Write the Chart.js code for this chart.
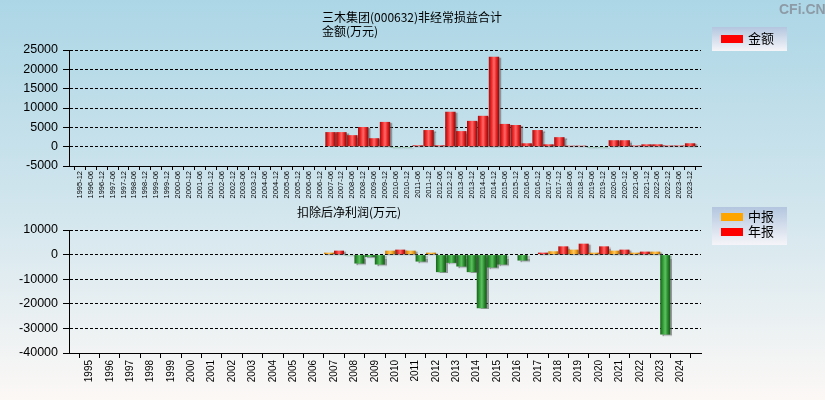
<!DOCTYPE html>
<html>
<head>
<meta charset="utf-8">
<script src="https://cdn.jsdelivr.net/npm/chart.js@4.4.1/dist/chart.umd.min.js"></script>
<style>
html, body { margin: 0; padding: 0; }
body {
    width: 825px; height: 400px; position: relative; overflow: hidden;
    background: linear-gradient(to bottom, #acd6e6 0%, #d0e5ed 50%, #fcf8f6 100%);
    font-family: "Noto Sans CJK SC", "Liberation Sans", sans-serif;
}
canvas { position: absolute; left: 0; }
#topChart { top: 0; }
#bottomChart { top: 200px; }
.title { position: absolute; font-size: 12px; line-height: 14px; color: #000; white-space: nowrap; }
.legend {
    position: absolute; left: 712px; width: 75px;
    background: linear-gradient(to bottom, #b3c6df, #f5f5f9);
    font-size: 13px; color: #000;
}
.legend div { position: absolute; left: 36px; line-height: 14px; }
.legend span { position: absolute; left: 9px; width: 22px; height: 8px; }
#wm { position: absolute; left: 779px; top: 1px; font: bold 14px "Liberation Sans", Arial, sans-serif; color: #8d9ba6; }
</style>
</head>
<body>
<canvas id="topChart" width="825" height="200"></canvas>
<canvas id="bottomChart" width="825" height="200"></canvas>

<div id="wm">CFi.CN</div>
<div class="title" style="left:322px; top:10px;">三木集团(000632)非经常损益合计<br>金额(万元)</div>
<div class="title" style="left:297px; top:205px;">扣除后净利润(万元)</div>

<div class="legend" style="top:27px; height:24px;">
    <span style="top:8px; background:#ff0000;"></span><div style="top:4px;">金额</div>
</div>
<div class="legend" style="top:207px; height:38px;">
    <span style="top:6px; background:#ffa500;"></span><div style="top:2px;">中报</div>
    <span style="top:21px; background:#ff0000;"></span><div style="top:17px;">年报</div>
</div>

<script>
// top chart: half-year periods
const periodLabels = [
    '1995-12',
    '1996-06', '1996-12', '1997-06', '1997-12', '1998-06', '1998-12', '1999-06', '1999-12',
    '2000-06', '2000-12', '2001-06', '2001-12', '2002-06', '2002-12', '2003-06', '2003-12',
    '2004-06', '2004-12', '2005-06', '2005-12', '2006-06', '2006-12', '2007-06', '2007-12',
    '2008-06', '2008-12', '2009-06', '2009-12', '2010-06', '2010-12', '2011-06', '2011-12',
    '2012-06', '2012-12', '2013-06', '2013-12', '2014-06', '2014-12', '2015-06', '2015-12',
    '2016-06', '2016-12', '2017-06', '2017-12', '2018-06', '2018-12', '2019-06', '2019-12',
    '2020-06', '2020-12', '2021-06', '2021-12', '2022-06', '2022-12', '2023-06', '2023-12'
];
const amountValues = [
    null,
    null, null, null, null, null, null, null, null,
    null, null, null, null, null, null, null, null,
    null, null, null, null, null, null, 3770, 3770,
    2980, 5090, 2190, 6400, -200, -200, 350, 4300,
    350, 9030, 4030, 6670, 7980, 23250, 5880, 5610,
    880, 4300, 610, 2460, 250, 250, -200, -200,
    1670, 1670, 300, 610, 610, 300, 300, 880
];
const topAxis = { min: -5000, max: 25000, step: 5000 };

// bottom chart: years
const yearLabels = [
    '1995', '1996', '1997', '1998', '1999', '2000', '2001', '2002', '2003', '2004',
    '2005', '2006', '2007', '2008', '2009', '2010', '2011', '2012', '2013', '2014',
    '2015', '2016', '2017', '2018', '2019', '2020', '2021', '2022', '2023', '2024'
];
const midValues = [
    null, null, null, null, null, null, null, null, null, null,
    null, null, 800, -300, -940, 1600, 1600, 800, -3360, -7130,
    -5250, -200, -200, 1350, 2020, 800, 1600, 800, 1210, null
];
const annualValues = [
    null, null, null, null, null, null, null, null, null, null,
    null, null, 1600, -3630, -4040, 2020, -2830, -7130, -4850, -21800,
    -4040, -2420, 800, 3360, 4440, 3360, 2020, 1210, -32500, null
];
const bottomAxis = { min: -40000, max: 10000, step: 10000 };

const palette = {
    red:    ['#9e0c0c', '#ee2626', '#ff6868', '#e42222', '#870909'],
    orange: ['#c27808', '#f5a522', '#ffc65c', '#ec9e1e', '#a86406'],
    green:  ['#1a611a', '#2f9834', '#5dc160', '#2a8a2e', '#165316']
};

// cylinder-like horizontal gradient for each bar
function barFill(kind, pct, groups) {
    return function (ctx) {
        const raw = ctx.raw;
        const val = raw && typeof raw === 'object' ? raw.y : raw;
        const stops = palette[val < 0 ? 'green' : kind];
        const x = ctx.chart.scales.x;
        if (!x || !x.width) return stops[1];
        const w = x.width / (x.max - x.min);
        const full = w * pct;
        const chunk = full / groups;
        const left = x.getPixelForValue(ctx.dataIndex) - full / 2 + (groups > 1 ? ctx.datasetIndex * chunk : 0);
        const g = ctx.chart.ctx.createLinearGradient(left, 0, left + chunk, 0);
        stops.forEach((c, i) => g.addColorStop(i / (stops.length - 1), c));
        return g;
    };
}

const shadowPlugin = {
    id: 'barShadow',
    beforeDatasetsDraw(chart) {
        const c = chart.ctx;
        c.save();
        c.shadowColor = 'rgba(80,80,80,0.55)';
        c.shadowOffsetX = 2;
        c.shadowOffsetY = 1;
        c.shadowBlur = 1;
    },
    afterDatasetsDraw(chart) { chart.ctx.restore(); }
};

function toPoints(arr) { return arr.map((v, i) => ({ x: i, y: v })); }

function makeOptions(labels, axis, cfg) {
    return {
        responsive: false,
        animation: false,
        devicePixelRatio: 1,
        layout: { padding: { top: cfg.top, right: 124, left: 0, bottom: 0 } },
        plugins: { legend: { display: false }, tooltip: { enabled: false } },
        scales: {
            x: {
                type: 'linear',
                min: -1,
                max: labels.length,
                offset: false,
                ticks: {
                    stepSize: 1, maxTicksLimit: 1000, autoSkip: false,
                    minRotation: 90, maxRotation: 90,
                    padding: cfg.xPad,
                    color: '#000',
                    font: { family: '"Liberation Sans", Arial, sans-serif', size: cfg.xFont },
                    callback: v => Number.isInteger(v) && labels[v] ? labels[v] : ''
                },
                grid: { drawOnChartArea: false, drawTicks: true, tickLength: cfg.tickLen, color: '#000', tickColor: '#000' },
                border: { display: true, color: '#000', width: 1 },
                afterFit(s) { s.height = cfg.xHeight; }
            },
            y: {
                min: axis.min, max: axis.max,
                ticks: {
                    stepSize: axis.step, padding: 5, color: '#000',
                    font: { family: '"Liberation Sans", Arial, sans-serif', size: 12.5 },
                    callback: v => String(v)
                },
                grid: { color: '#000', tickColor: '#000', tickLength: 6, lineWidth: 1 },
                border: { display: true, color: '#000', width: 1, dash: [3, 2] },
                afterFit(s) { s.width = 69; }
            }
        }
    };
}

new Chart(document.getElementById('topChart'), {
    type: 'bar',
    data: {
        datasets: [{
            label: '金额',
            data: toPoints(amountValues),
            backgroundColor: barFill('red', 0.95, 1),
            borderWidth: 0,
            categoryPercentage: 0.95,
            barPercentage: 1
        }]
    },
    options: makeOptions(periodLabels, topAxis, { top: 50, xHeight: 34, xFont: 7.5, xPad: 1, tickLen: 4 }),
    plugins: [shadowPlugin]
});

new Chart(document.getElementById('bottomChart'), {
    type: 'bar',
    data: {
        datasets: [{
            label: '中报',
            data: toPoints(midValues),
            backgroundColor: barFill('orange', 0.98, 2),
            borderWidth: 0,
            categoryPercentage: 0.98,
            barPercentage: 1
        }, {
            label: '年报',
            data: toPoints(annualValues),
            backgroundColor: barFill('red', 0.98, 2),
            borderWidth: 0,
            categoryPercentage: 0.98,
            barPercentage: 1
        }]
    },
    options: makeOptions(yearLabels, bottomAxis, { top: 30, xHeight: 47, xFont: 10, xPad: 2, tickLen: 5 }),
    plugins: [shadowPlugin]
});
</script>
</body>
</html>
